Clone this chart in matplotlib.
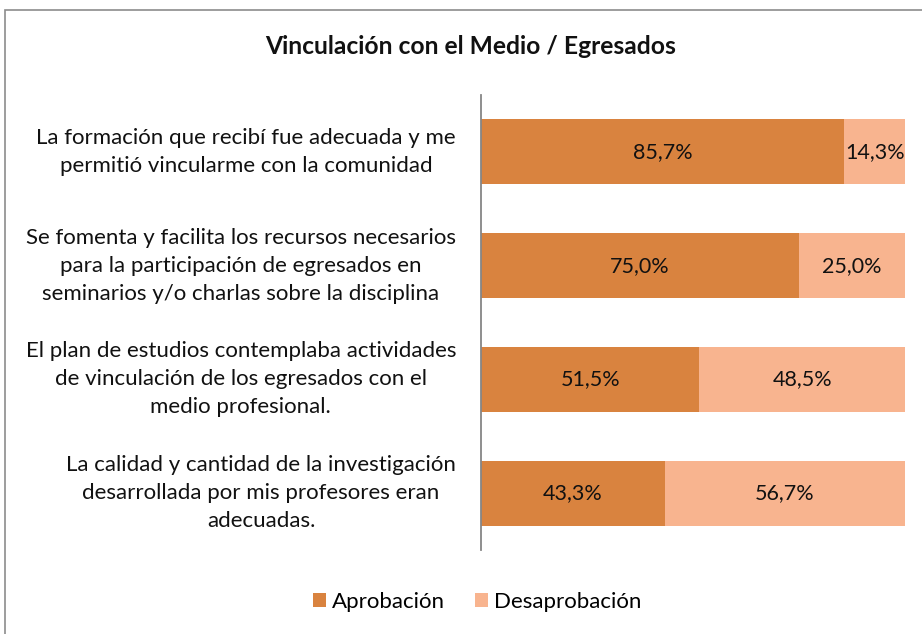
import matplotlib.pyplot as plt
import numpy as np
from matplotlib.patches import Rectangle

plt.rcParams['font.family'] = ['Lato', 'DejaVu Sans']

# datos del grafico
preguntas = [
    'La formación que recibí fue adecuada y me\npermitió vincularme con la comunidad',
    'Se fomenta y facilita los recursos necesarios\npara la participación de egresados en\nseminarios y/o charlas sobre la disciplina',
    'El plan de estudios contemplaba actividades\nde vinculación de los egresados con el\nmedio profesional.',
    'La calidad y cantidad de la investigación\ndesarrollada por mis profesores eran\nadecuadas.',
]
aprobacion = [85.7, 75.0, 51.5, 43.3]
desaprobacion = [14.3, 25.0, 48.5, 56.7]
series = ['Aprobación', 'Desaprobación']
colores = ['#D9833F', '#F8B48F']

W, H = 922, 634
fig = plt.figure(figsize=(W / 100, H / 100), dpi=100)
# marco gris del area del grafico
fig.patches.append(Rectangle((5 / W, -0.1), 1.2, 1 - 10 / H + 0.1, transform=fig.transFigure,
                             fill=False, edgecolor='#8c8c8c', linewidth=1.2))

ax = fig.add_axes([481 / W, 1 - 550 / H, 424 / W, 455 / H])
y = np.arange(len(preguntas))
b1 = ax.barh(y, aprobacion, height=0.57, color=colores[0], label=series[0])
b2 = ax.barh(y, desaprobacion, left=aprobacion, height=0.57, color=colores[1], label=series[1])

for bars, vals, lefts in [(b1, aprobacion, [0] * 4), (b2, desaprobacion, aprobacion)]:
    for bar, v, l in zip(bars, vals, lefts):
        ax.text(l + v / 2, bar.get_y() + bar.get_height() / 2,
                f'{v:.1f}%'.replace('.', ','), ha='center', va='center', fontsize=15.5, color='#111111')

ax.set_xlim(0, 100)
ax.set_ylim(len(preguntas) - 0.5, -0.5)
ax.set_xticks([])
ax.set_yticks([])
for s in ['top', 'right', 'bottom']:
    ax.spines[s].set_visible(False)
ax.spines['left'].set_color('#868686')
ax.spines['left'].set_linewidth(1.3)

for yi, txt in zip(y, preguntas):
    ax.text(-(481 - 456) / 424 * 100, yi, txt, ha='right', va='center', multialignment='center',
            fontsize=16, linespacing=1.5, color='#111111')

fig.text(471 / W, 1 - 47 / H, 'Vinculación con el Medio / Egresados', ha='center', va='center',
         fontsize=17.7, fontweight='bold', color='#111111')

fig.legend(handles=[b1, b2], labels=series, loc='center', bbox_to_anchor=(477 / W, 1 - 602 / H),
           ncol=2, frameon=False, fontsize=16, handlelength=0.6, handleheight=0.6,
           handletextpad=0.25, columnspacing=1.35)

fig.savefig('out.png', dpi=100)
